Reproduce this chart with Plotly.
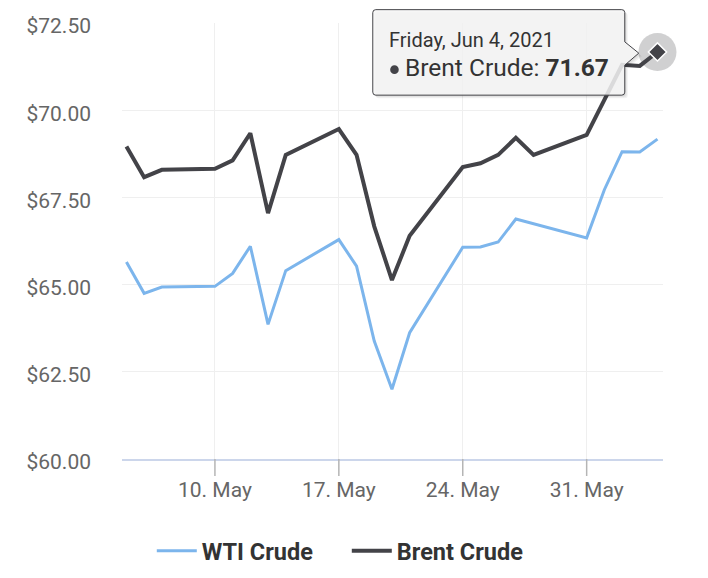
import plotly.graph_objects as go
import pandas as pd

dates = ["2021-05-05", "2021-05-06", "2021-05-07", "2021-05-10", "2021-05-11", "2021-05-12",
         "2021-05-13", "2021-05-14", "2021-05-17", "2021-05-18", "2021-05-19", "2021-05-20",
         "2021-05-21", "2021-05-24", "2021-05-25", "2021-05-26", "2021-05-27", "2021-05-28",
         "2021-05-31", "2021-06-01", "2021-06-02", "2021-06-03", "2021-06-04"]
wti = [65.65, 64.75, 64.93, 64.95, 65.32, 66.10, 63.86, 65.40, 66.29, 65.53, 63.38, 62.00,
       63.62, 66.07, 66.08, 66.22, 66.88, None, 66.34, 67.72, 68.81, 68.80, 69.17]
brent = [68.96, 68.08, 68.29, 68.32, 68.56, 69.34, 67.05, 68.72, 69.46, 68.72, 66.67, 65.13,
         66.40, 68.37, 68.48, 68.72, 69.21, 68.72, 69.29, 70.30, 71.30, 71.27, 71.67]
x_tick_vals = ["2021-05-10", "2021-05-17", "2021-05-24", "2021-05-31"]
y_tick_vals = [60, 62.5, 65, 67.5, 70, 72.5]

X_RANGE = ["2021-05-04 18:00", "2021-06-04 07:30"]
Y_RANGE = [60, 72.5]

WTI_COLOR = "#7cb5ec"
BRENT_COLOR = "#434348"
FONT = "Roboto"

fig = go.Figure()
fig.add_trace(go.Scatter(x=dates, y=wti, name="WTI Crude", mode="lines", connectgaps=True,
                         line=dict(color=WTI_COLOR, width=3)))
fig.add_trace(go.Scatter(x=dates, y=brent, name="Brent Crude", mode="lines", connectgaps=True,
                         line=dict(color=BRENT_COLOR, width=4)))

# hover halo + marker on the last Brent point
fig.add_trace(go.Scatter(x=[dates[-1]], y=[brent[-1]], mode="markers", showlegend=False,
                         hoverinfo="skip", cliponaxis=False,
                         marker=dict(symbol="circle", size=38, color="rgba(67,67,72,0.25)",
                                     line=dict(width=0))))
fig.add_trace(go.Scatter(x=[dates[-1]], y=[brent[-1]], mode="markers", showlegend=False,
                         hoverinfo="skip", cliponaxis=False,
                         marker=dict(symbol="diamond", size=14, color=BRENT_COLOR,
                                     line=dict(width=1.5, color="white"))))

# anchor of the tooltip (hovered point) in plot-fraction coordinates
t0, t1 = pd.Timestamp(X_RANGE[0]), pd.Timestamp(X_RANGE[1])
ax = (pd.Timestamp(dates[-1]) - t0) / (t1 - t0)
ay = (brent[-1] - Y_RANGE[0]) / (Y_RANGE[1] - Y_RANGE[0])

# tooltip box (pixel offsets relative to the hovered point, y up)
L, R, T, B, r = -284.7, -32.7, 42.3, -43.2, 3


def box_path(dx=0.0, dy=0.0):
    pts = [
        ("M", L + r, T), ("L", R - r, T), ("Q", R, T, R, T - r), ("L", R, 10.1),
        ("L", -18.7, -1.2), ("L", R, -13.2), ("L", R, B + r), ("Q", R, B, R - r, B),
        ("L", L + r, B), ("Q", L, B, L, B + r), ("L", L, T - r), ("Q", L, T, L + r, T),
    ]
    s = ""
    for p in pts:
        coords = p[1:]
        parts = []
        for i in range(0, len(coords), 2):
            parts.append(f"{coords[i] + dx:.2f},{coords[i + 1] + dy:.2f}")
        s += p[0] + " " + " ".join(parts) + " "
    return s + "Z"


common = dict(xref="paper", yref="paper", xsizemode="pixel", ysizemode="pixel",
              xanchor=ax, yanchor=ay)
shapes = []
# x-axis tick marks (below the axis line)
for tv in x_tick_vals:
    shapes.append(dict(type="line", xref="x", yref="paper", ysizemode="pixel", yanchor=0,
                       x0=tv, x1=tv, y0=0, y1=-17,
                       line=dict(color="#b5b5b5", width=1.5), layer="above"))
for off in (3, 2, 1):
    shapes.append(dict(type="path", path=box_path(off, -off),
                       fillcolor="rgba(0,0,0,0.05)", line=dict(width=0), **common))
shapes.append(dict(type="path", path=box_path(),
                   fillcolor="rgba(247,247,247,0.85)", line=dict(color=BRENT_COLOR, width=1),
                   **common))
# series bullet in tooltip
shapes.append(dict(type="circle", x0=-267.3, x1=-258.7, y0=-22.0, y1=-13.4,
                   fillcolor=BRENT_COLOR, line=dict(width=0), **common))

last_date = pd.Timestamp(dates[-1])
header = f"{last_date.strftime('%A')}, {last_date.strftime('%b')} {last_date.day}, {last_date.year}"
body = f"Brent Crude: <b>{brent[-1]:.2f}</b>"

annotations = [
    dict(x=ax, y=ay, xref="paper", yref="paper", text=header, showarrow=False,
         xanchor="left", yanchor="middle", xshift=-270, yshift=11.5,
         font=dict(family=FONT, size=20, color="#333333")),
    dict(x=ax, y=ay, xref="paper", yref="paper", text=body, showarrow=False,
         xanchor="left", yanchor="middle", xshift=-254, yshift=-16,
         font=dict(family=FONT, size=24.5, color="#333333")),
]

fig.update_layout(
    width=708, height=578,
    margin=dict(l=122, r=45, t=23, b=119, autoexpand=False),
    paper_bgcolor="white", plot_bgcolor="white",
    font=dict(family=FONT),
    showlegend=True,
    legend=dict(orientation="h", xref="container", yref="container",
                x=0.2144, y=0.0467, xanchor="left", yanchor="middle",
                font=dict(family=FONT, size=23.5, color="#333333", weight="bold"),
                itemwidth=40, entrywidth=140),
    shapes=shapes,
    annotations=annotations,
    hovermode=False,
)
fig.update_xaxes(
    type="date", range=X_RANGE,
    tickvals=x_tick_vals, tickformat="%-d. %b",
    showgrid=True, gridcolor="#efefef", gridwidth=1,
    showline=True, linecolor="#ccd6eb", linewidth=1.5,
    ticks="",
    tickfont=dict(family=FONT, size=21, color="#666666"),
    ticklabelstandoff=11,
    zeroline=False,
)
fig.update_yaxes(
    range=Y_RANGE, tickvals=y_tick_vals, tickformat="$.2f",
    showgrid=True, gridcolor="#efefef", gridwidth=1,
    showline=False, ticks="", zeroline=False,
    tickfont=dict(family=FONT, size=21, color="#666666"),
    ticklabelstandoff=30, ticklabelshift=3,
)

fig.write_html("out.html")
